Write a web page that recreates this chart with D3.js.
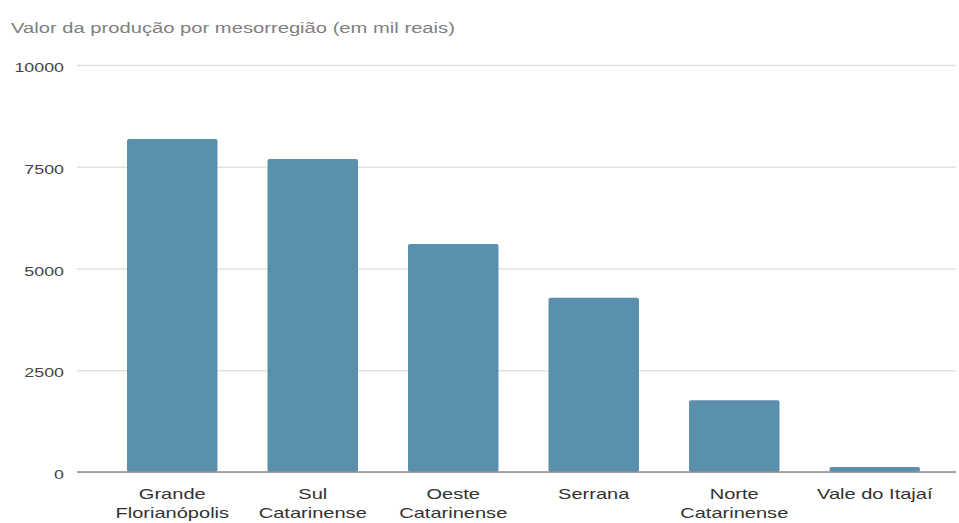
<!DOCTYPE html>
<html>
<head>
<meta charset="utf-8">
<script src="https://cdn.jsdelivr.net/npm/d3@7"></script>
<style>
  html, body { margin: 0; padding: 0; background: #fff; }
  svg { display: block; }
  text { font-family: "Liberation Sans", Arial, Helvetica, sans-serif; }
</style>
</head>
<body>
<svg id="chart" width="959" height="523"></svg>
<script>
// Production value per mesoregion (thousand reais)
const categories = [
  "Grande Florianópolis",
  "Sul Catarinense",
  "Oeste Catarinense",
  "Serrana",
  "Norte Catarinense",
  "Vale do Itajaí"
];
const labelLines = [
  ["Grande", "Florianópolis"],
  ["Sul", "Catarinense"],
  ["Oeste", "Catarinense"],
  ["Serrana"],
  ["Norte", "Catarinense"],
  ["Vale do Itajaí"]
];
const values = [8180, 7690, 5600, 4280, 1760, 120];
const yTicks = [0, 2500, 5000, 7500, 10000];
const title = "Valor da produção por mesorregião (em mil reais)";

// Wide glyph rendering: text is stretched horizontally
const SX = 1.32;

const svg = d3.select("#chart");
const plotLeft = 77, plotRight = 956;

const y = d3.scaleLinear().domain([0, 10000]).range([472, 65]);
const x = d3.scaleBand()
  .domain(categories)
  .range([102, 945])
  .paddingInner(0.356)
  .paddingOuter(0.178);

// Title
svg.append("text")
  .attr("transform", `translate(11,33) scale(${SX},1)`)
  .attr("font-size", 15.3)
  .attr("fill", "#808080")
  .text(title);

// Y axis with gridlines
const yAxis = d3.axisLeft(y)
  .tickValues(yTicks)
  .tickFormat(d3.format("d"))
  .tickSize(-(plotRight - plotLeft))
  .tickPadding(0);

const gy = svg.append("g")
  .attr("transform", `translate(${plotLeft},0)`)
  .call(yAxis);
gy.select(".domain").remove();
gy.selectAll(".tick line")
  .attr("stroke", "#e2e2e2")
  .attr("stroke-width", 1.5);
gy.selectAll(".tick text")
  .attr("x", null)
  .attr("dy", null)
  .attr("transform", `translate(-13,6.5) scale(${SX},1)`)
  .attr("text-anchor", "end")
  .attr("font-size", 13.5)
  .attr("fill", "#444");

// Bars
svg.append("g")
  .selectAll("rect")
  .data(values)
  .join("rect")
  .attr("x", (d, i) => x(categories[i]))
  .attr("y", d => y(d))
  .attr("width", x.bandwidth())
  .attr("height", d => y(0) - y(d))
  .attr("rx", 2)
  .attr("fill", "#5a8fae");

// Baseline
svg.append("line")
  .attr("x1", plotLeft)
  .attr("x2", plotRight)
  .attr("y1", y(0))
  .attr("y2", y(0))
  .attr("stroke", "#8f8f8f")
  .attr("stroke-width", 1.5);

// Category axis
const xAxis = d3.axisBottom(x).tickSize(0).tickPadding(0);
const gx = svg.append("g")
  .attr("transform", `translate(0,${y(0)})`)
  .call(xAxis);
gx.select(".domain").remove();
gx.selectAll(".tick text").each(function (d, i) {
  const t = d3.select(this)
    .attr("y", null)
    .attr("dy", null)
    .attr("transform", `translate(0,27) scale(${SX},1)`)
    .attr("text-anchor", "middle")
    .attr("font-size", 15.2)
    .attr("fill", "#333")
    .text(null);
  labelLines[i].forEach((line, j) => {
    t.append("tspan")
      .attr("x", 0)
      .attr("y", j * 19)
      .text(line);
  });
});
</script>
</body>
</html>
